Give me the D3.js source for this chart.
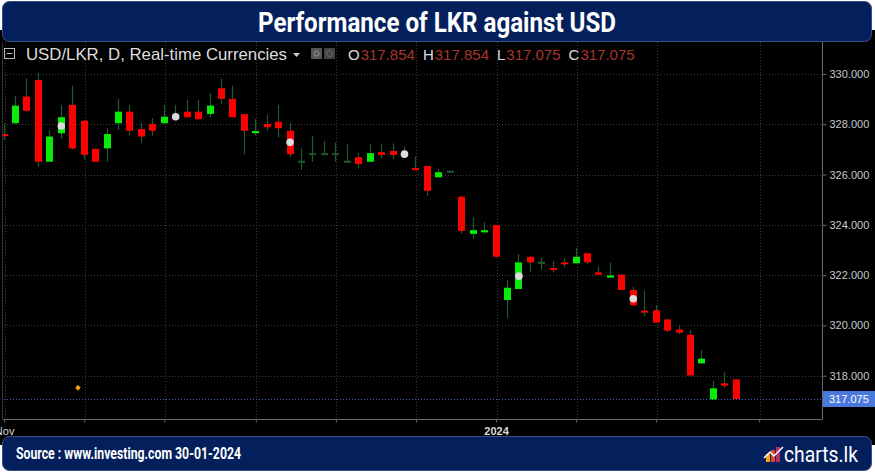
<!DOCTYPE html>
<html><head><meta charset="utf-8">
<script src="https://cdn.jsdelivr.net/npm/d3@7"></script>
<style>html,body{margin:0;padding:0;background:#fff;overflow:hidden}</style>
</head><body><svg id="c" width="875" height="473"></svg>
<script>
const title = "Performance of LKR against USD";
const sourceText = "Source : www.investing.com 30-01-2024";
const brand = "charts.lk";
const symbolLabel = "USD/LKR, D, Real-time Currencies";

const open  = [327.61,328.04,329.10,329.76,326.51,327.64,328.77,328.14,327.02,327.04,328.04,328.50,327.81,328.01,328.04,328.26,328.50,328.50,328.41,329.43,329.01,328.40,327.64,328.01,328.10,327.74,326.51,326.81,326.81,326.81,326.51,326.69,326.51,326.89,326.94,326.81,326.25,326.34,325.89,326.11,325.12,323.64,323.70,323.99,321.01,321.45,322.73,322.49,322.26,322.51,322.47,322.87,322.11,321.90,322.02,321.41,320.57,320.60,320.24,319.84,319.63,318.49,317.06,317.70,317.854];
const high  = [328.04,329.12,329.83,330.03,327.77,328.77,329.53,328.16,327.04,327.84,329.01,328.77,328.04,328.24,328.77,328.77,328.97,328.97,329.23,329.80,329.53,328.41,328.21,328.37,328.77,328.04,327.04,327.53,327.33,327.27,327.21,326.87,327.20,327.24,327.24,327.11,326.71,326.36,326.22,326.13,325.14,324.30,324.10,324.00,321.81,322.84,322.74,322.71,322.57,322.67,323.09,322.88,322.36,322.49,322.03,321.54,321.38,320.81,320.25,320.02,319.82,319.02,317.80,318.13,317.854];
const low   = [327.37,328.00,328.50,326.31,326.50,327.41,327.00,326.61,326.50,326.51,327.77,327.55,327.28,327.55,328.02,328.20,328.27,328.19,328.28,328.79,328.27,326.81,327.55,327.74,327.47,326.71,326.18,326.51,326.81,326.51,326.51,326.25,326.51,326.65,326.61,326.78,326.18,325.15,325.89,326.09,323.66,323.44,323.70,322.70,320.28,321.45,322.14,322.23,322.11,322.31,322.47,322.44,322.02,321.90,321.41,320.80,320.37,320.11,319.74,319.66,318.01,318.49,317.06,317.52,317.075];
const close = [327.52,328.74,328.53,326.51,327.51,328.28,327.04,326.78,326.51,327.61,328.50,327.74,327.51,327.74,328.30,328.28,328.28,328.20,328.74,329.01,328.28,327.74,327.73,327.88,327.84,326.81,326.51,326.81,326.81,326.81,326.51,326.42,326.85,326.78,326.78,326.81,326.18,325.35,326.09,326.11,323.76,323.79,323.79,322.73,321.50,322.51,322.51,322.49,322.22,322.43,322.73,322.51,322.02,321.99,321.41,320.80,320.53,320.11,319.79,319.71,318.01,318.68,317.50,317.60,317.075];

const yTicks = [318, 320, 322, 324, 326, 328, 330];
const xTickIdx = [0, 7, 14, 22, 29, 36, 43, 50, 57, 66];
const xTickLabels = ["Nov", "", "", "", "", "", "2024", "", "", ""];
const dotIdx = [5, 15, 25, 35, 45, 55];
const dotVal = [327.93, 328.30, 327.28, 326.81, 321.96, 321.06];
const eventIdx = [6.5];
const eventVal = [317.52];

const W = 875, H = 473;
const plot = {left: 1, right: 822, top: 42, bottom: 419};
const svg = d3.select("#c");

const x = d3.scaleLinear().domain([-0.227, 71.54]).range([plot.left, plot.right]);
const y = d3.scaleLinear().domain([316.28, 331.27]).range([plot.bottom, plot.top]);

// backgrounds
svg.append("rect").attr("x",0).attr("y",30).attr("width",W).attr("height",415).attr("fill","#000");

const defs = svg.append("defs");
defs.append("clipPath").attr("id","pc").append("rect")
  .attr("x",plot.left+1).attr("y",plot.top).attr("width",plot.right-plot.left-1).attr("height",plot.bottom-plot.top);

const g = svg.append("g").attr("clip-path","url(#pc)");

// grid
g.selectAll(".hg").data(yTicks).join("line")
  .attr("x1",plot.left).attr("x2",plot.right)
  .attr("y1",d=>Math.round(y(d))+0.5).attr("y2",d=>Math.round(y(d))+0.5)
  .attr("stroke","#3a3a3a").attr("stroke-dasharray","1,2");
g.selectAll(".vg").data(xTickIdx).join("line")
  .attr("x1",d=>Math.round(x(d))+1.5).attr("x2",d=>Math.round(x(d))+1.5)
  .attr("y1",plot.top).attr("y2",plot.bottom)
  .attr("stroke","#3a3a3a").attr("stroke-dasharray","1,2");

// last price line
g.append("line").attr("x1",plot.left).attr("x2",plot.right)
  .attr("y1",Math.round(y(close[close.length-1]))+0.5).attr("y2",Math.round(y(close[close.length-1]))+0.5)
  .attr("stroke","#3f5fd0").attr("stroke-dasharray","1,2").attr("stroke-width",1.2);

// candles
const idx = d3.range(open.length);
const bw = 7;
const wickColor = "#1f5a2e";
g.selectAll(".wick").data(idx).join("line")
  .attr("x1",i=>Math.round(x(i))+0.5).attr("x2",i=>Math.round(x(i))+0.5)
  .attr("y1",i=>y(high[i])).attr("y2",i=>y(low[i]))
  .attr("stroke",wickColor).attr("stroke-width",1.2);
g.selectAll(".body").data(idx).join("rect")
  .attr("x",i=>Math.round(x(i))+0.5-bw/2)
  .attr("width",bw)
  .attr("y",i=>{
    const t=y(Math.max(open[i],close[i])), b=y(Math.min(open[i],close[i]));
    return open[i]===close[i] ? t-1 : (b-t<2 ? (t+b)/2-1 : t);
  })
  .attr("height",i=>{
    const t=y(Math.max(open[i],close[i])), b=y(Math.min(open[i],close[i]));
    return open[i]===close[i] ? 2 : Math.max(2,b-t);
  })
  .attr("fill",i=> open[i]===close[i] ? wickColor : (close[i]>open[i] ? "#0aeb0a" : "#ff0000"));

// event dots
g.selectAll(".dot").data(dotIdx).join("circle")
  .attr("cx",(d)=>x(d)+0.5).attr("cy",(d,k)=>y(dotVal[k])).attr("r",3.8)
  .attr("fill","#dcdcdc");
g.selectAll(".ev").data(eventIdx).join("rect")
  .attr("x",d=>x(d)-2).attr("y",(d,k)=>y(eventVal[k])-2).attr("width",4).attr("height",4)
  .attr("transform",(d,k)=>`rotate(30 ${x(d)} ${y(eventVal[k])})`)
  .attr("fill","#f0a010");

// frame
svg.append("line").attr("x1",2.5).attr("x2",2.5).attr("y1",plot.top).attr("y2",plot.bottom).attr("stroke","#333");
svg.append("line").attr("x1",2.5).attr("x2",plot.right).attr("y1",plot.bottom+0.5).attr("y2",plot.bottom+0.5).attr("stroke","#6a6a6a");
svg.append("line").attr("x1",plot.right+0.5).attr("x2",plot.right+0.5).attr("y1",plot.top).attr("y2",plot.bottom+0.5).attr("stroke","#6a6a6a");

// right axis
const ay = svg.append("g").attr("transform",`translate(${plot.right+0.5},0)`)
  .call(d3.axisRight(y).tickValues(yTicks).tickFormat(d3.format(".3f")).tickSize(4).tickPadding(3));
ay.select(".domain").remove();
ay.selectAll("line").attr("stroke","#6a6a6a");
ay.selectAll("text").attr("fill","#c8c8c8").style("font-family","Liberation Sans, Arial, sans-serif").style("font-size","11px");

// price label
const lp = close[close.length-1];
svg.append("rect").attr("x",plot.right+1).attr("y",y(lp)-8).attr("width",W-plot.right-1).attr("height",16).attr("fill","#4a78dc");
svg.append("text").attr("x",plot.right+7).attr("y",y(lp)+4).text(d3.format(".3f")(lp))
  .attr("fill","#fff").style("font-family","Liberation Sans, Arial, sans-serif").style("font-size","11px");

// bottom axis
const ax = svg.append("g").attr("transform",`translate(0.5,${plot.bottom+0.5})`)
  .call(d3.axisBottom(x).tickValues(xTickIdx).tickFormat((d,k)=>xTickLabels[k]).tickSize(3).tickPadding(5));
ax.select(".domain").remove();
ax.selectAll("line").attr("stroke","#6a6a6a");
ax.selectAll("text").attr("fill","#d8d8d8").style("font-family","Liberation Sans, Arial, sans-serif").style("font-size","11px")
  .style("font-weight",(d,k)=>xTickLabels[k]==="2024"?"bold":"normal");

// header legend
const hf = "Liberation Sans, Arial, sans-serif";
svg.append("rect").attr("x",4.5).attr("y",48.5).attr("width",10).attr("height",10).attr("fill","none").attr("stroke","#bbb");
svg.append("line").attr("x1",6.5).attr("x2",12.5).attr("y1",53.5).attr("y2",53.5).attr("stroke","#bbb");
svg.append("text").attr("x",26).attr("y",60).text(symbolLabel).attr("fill","#dedede")
  .style("font-family",hf).style("font-size","16.5px")
  .attr("textLength",261).attr("lengthAdjust","spacingAndGlyphs");
svg.append("path").attr("d","M293,53 l7,0 l-3.5,4 z").attr("fill","#ccc");
svg.append("rect").attr("x",311).attr("y",48).attr("width",11).attr("height",11).attr("fill","#555");
svg.append("circle").attr("cx",316.5).attr("cy",53.5).attr("r",2.5).attr("fill","none").attr("stroke","#999");
svg.append("rect").attr("x",324).attr("y",48).attr("width",11).attr("height",11).attr("fill","#444");
svg.append("circle").attr("cx",329.5).attr("cy",53.5).attr("r",3).attr("fill","none").attr("stroke","#888").attr("stroke-dasharray","1.5,1");
const ohlc = [["O",open],["H",high],["L",low],["C",close]];
const last = open.length-1;
const ht = svg.append("text").attr("x",348).attr("y",60).style("font-family",hf).style("font-size","15px");
ohlc.forEach(([k,arr],j)=>{
  ht.append("tspan").attr("dx",j?8:0).attr("fill","#dedede").text(k);
  ht.append("tspan").attr("dx",1).attr("fill","#a8342e").text(d3.format(".3f")(arr[last]));
});

// title band
const navy = "#04205c";
svg.append("rect").attr("x",2.5).attr("y",1.5).attr("width",869).attr("height",40).attr("rx",7).attr("fill",navy).attr("stroke","#3a4f86");
svg.append("text").attr("x",437).attr("y",32).attr("text-anchor","middle").text(title)
  .attr("fill","#fff").style("font-family","Roboto, Liberation Sans, sans-serif").style("font-weight","bold").style("font-size","27px")
  .attr("textLength",358).attr("lengthAdjust","spacingAndGlyphs");

// footer band
svg.append("rect").attr("x",2.5).attr("y",436.5).attr("width",869).attr("height",34).attr("rx",7).attr("fill",navy).attr("stroke","#3a4f86");
svg.append("text").attr("x",16).attr("y",459).text(sourceText)
  .attr("fill","#fff").style("font-family","Roboto, Liberation Sans, sans-serif").style("font-weight","bold").style("font-size","17px")
  .attr("textLength",225).attr("lengthAdjust","spacingAndGlyphs");
// brand logo
const lg = svg.append("g");
lg.append("rect").attr("x",766).attr("y",454).attr("width",4).attr("height",8).attr("fill","#f6a21a");
lg.append("rect").attr("x",771).attr("y",450).attr("width",4).attr("height",12).attr("fill","#e8452c");
lg.append("rect").attr("x",776).attr("y",447).attr("width",4).attr("height",15).attr("fill","#b0306a");
lg.append("path").attr("d","M764,458 L770,452 L774,456 L783,447").attr("fill","none").attr("stroke","#fff").attr("stroke-width",1.5);
svg.append("text").attr("x",784).attr("y",462).text(brand)
  .attr("fill","#fff").style("font-family","Roboto, Liberation Sans, sans-serif").style("font-size","22px")
  .attr("textLength",74).attr("lengthAdjust","spacingAndGlyphs");
</script></body></html>
